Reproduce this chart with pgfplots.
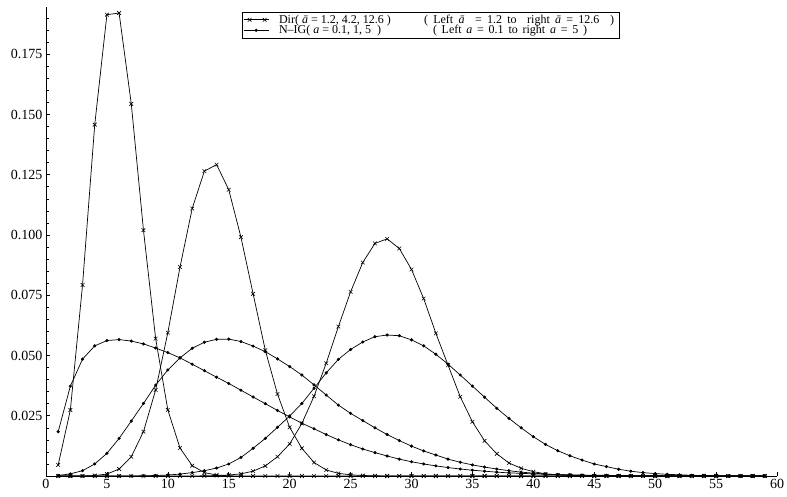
\documentclass[border=0pt]{standalone}
\usepackage{fontspec}
\setmainfont{Liberation Serif}
\usepackage{pgfplots}
\usepackage{pgfplotstable}
\pgfplotsset{compat=1.18}

% k = number of components; d = Dirichlet, n = N-IG
\pgfplotstableread{
k  d1     d2     d3     n1     n2     n3
1  0.0046 0.0000 0.0000 0.0184 0.0002 0.0000
2  0.0274 0.0000 0.0000 0.0373 0.0009 0.0000
3  0.0793 0.0000 0.0000 0.0485 0.0022 0.0000
4  0.1458 0.0002 0.0000 0.0540 0.0050 0.0000
5  0.1914 0.0008 0.0000 0.0562 0.0094 0.0000
6  0.1921 0.0029 0.0000 0.0566 0.0156 0.0000
7  0.1544 0.0080 0.0000 0.0560 0.0228 0.0000
8  0.1020 0.0184 0.0000 0.0548 0.0301 0.0001
9  0.0570 0.0357 0.0000 0.0531 0.0377 0.0002
10 0.0274 0.0595 0.0000 0.0512 0.0440 0.0004
11 0.0116 0.0867 0.0000 0.0490 0.0490 0.0008
12 0.0043 0.1110 0.0000 0.0464 0.0530 0.0014
13 0.0014 0.1265 0.0001 0.0437 0.0555 0.0022
14 0.0004 0.1292 0.0002 0.0410 0.0567 0.0033
15 0.0001 0.1188 0.0004 0.0384 0.0568 0.0050
16 0.0000 0.0991 0.0009 0.0356 0.0558 0.0077
17 0.0000 0.0756 0.0020 0.0328 0.0539 0.0115
18 0.0000 0.0522 0.0042 0.0300 0.0516 0.0156
19 0.0000 0.0340 0.0080 0.0272 0.0486 0.0202
20 0.0000 0.0202 0.0133 0.0245 0.0454 0.0249
21 0.0000 0.0115 0.0218 0.0219 0.0419 0.0301
22 0.0000 0.0056 0.0331 0.0196 0.0378 0.0364
23 0.0000 0.0025 0.0468 0.0172 0.0336 0.0428
24 0.0000 0.0011 0.0620 0.0150 0.0294 0.0484
25 0.0000 0.0005 0.0764 0.0130 0.0260 0.0525
26 0.0000 0.0002 0.0886 0.0112 0.0230 0.0556
27 0.0000 0.0001 0.0965 0.0097 0.0200 0.0578
28 0.0000 0.0000 0.0984 0.0083 0.0172 0.0585
29 0.0000 0.0000 0.0944 0.0070 0.0147 0.0582
30 0.0000 0.0000 0.0857 0.0059 0.0124 0.0565
31 0.0000 0.0000 0.0736 0.0050 0.0104 0.0540
32 0.0000 0.0000 0.0592 0.0042 0.0087 0.0505
33 0.0000 0.0000 0.0460 0.0035 0.0070 0.0464
34 0.0000 0.0000 0.0329 0.0029 0.0057 0.0419
35 0.0000 0.0000 0.0225 0.0024 0.0046 0.0373
36 0.0000 0.0000 0.0146 0.0020 0.0037 0.0327
37 0.0000 0.0000 0.0092 0.0016 0.0029 0.0281
38 0.0000 0.0000 0.0054 0.0013 0.0022 0.0239
39 0.0000 0.0000 0.0032 0.0011 0.0016 0.0200
40 0.0000 0.0000 0.0018 0.0009 0.0012 0.0163
41 0.0000 0.0000 0.0009 0.0007 0.0008 0.0131
42 0.0000 0.0000 0.0004 0.0006 0.0006 0.0105
43 0.0000 0.0000 0.0002 0.0005 0.0004 0.0084
44 0.0000 0.0000 0.0001 0.0004 0.0003 0.0066
45 0.0000 0.0000 0.0000 0.0003 0.0002 0.0050
46 0.0000 0.0000 0.0000 0.0003 0.0001 0.0039
47 0.0000 0.0000 0.0000 0.0002 0.0001 0.0028
48 0.0000 0.0000 0.0000 0.0002 0.0000 0.0020
49 0.0000 0.0000 0.0000 0.0001 0.0000 0.0014
50 0.0000 0.0000 0.0000 0.0001 0.0000 0.0010
51 0.0000 0.0000 0.0000 0.0001 0.0000 0.0007
52 0.0000 0.0000 0.0000 0.0001 0.0000 0.0005
53 0.0000 0.0000 0.0000 0.0001 0.0000 0.0003
54 0.0000 0.0000 0.0000 0.0001 0.0000 0.0002
55 0.0000 0.0000 0.0000 0.0001 0.0000 0.0001
56 0.0000 0.0000 0.0000 0.0000 0.0000 0.0000
57 0.0000 0.0000 0.0000 0.0000 0.0000 0.0000
58 0.0000 0.0000 0.0000 0.0000 0.0000 0.0000
59 0.0000 0.0000 0.0000 0.0000 0.0000 0.0000
}\probs

\pgfplotsset{
  dirstyle/.style={black, line width=0.7pt, mark=x, mark size=2.6pt,
    mark options={line width=0.6pt}},
  nigstyle/.style={black, line width=0.7pt, mark=*, mark size=1.2pt},
  dirlegend/.style={legend image code/.code={\draw[mark repeat=2, mark phase=2, ##1]
    plot coordinates {(0pt,0pt) (6pt,0pt) (13pt,0pt) (21pt,0pt) (25pt,0pt)};}},
  niglegend/.style={legend image code/.code={\draw[mark repeat=2, mark phase=2, ##1]
    plot coordinates {(0pt,0pt) (12.5pt,0pt) (25pt,0pt)};}},
}

\begin{document}
\begin{tikzpicture}
\useasboundingbox (-46pt,-20pt) rectangle (741pt,476pt);
\begin{axis}[
  scale only axis,
  width=731pt, height=469pt,
  xmin=0, xmax=60, ymin=0, ymax=0.1946,
  axis x line*=bottom, axis y line*=left,
  axis line style={-, line width=0.8pt},
  xtick={0,5,10,15,20,25,30,35,40,45,50,55,60},
  ytick={0,0.025,0.05,0.075,0.1,0.125,0.15,0.175},
  yticklabels={,0.025,0.050,0.075,0.100,0.125,0.150,0.175},
  minor ytick={0.005,0.01,0.015,0.02,0.03,0.035,0.04,0.045,0.055,0.06,0.065,0.07,0.08,0.085,0.09,0.095,0.105,0.11,0.115,0.12,0.13,0.135,0.14,0.145,0.155,0.16,0.165,0.17,0.18,0.185,0.19},
  tick align=inside,
  major tick length=4pt, minor tick length=2.5pt,
  tick style={black, line width=0.6pt},
  ticklabel style={font=\fontsize{14}{16}\selectfont},
  /pgf/number format/assume math mode=true,
  legend style={at={(0.268,0.99)}, anchor=north west, draw=black,
    line width=0.8pt, font=\fontsize{12}{12}\selectfont,
    inner sep=1pt, row sep=-3pt, column sep=8pt,
    cells={anchor=west, inner ysep=0pt, text height=8pt, text depth=2.2pt}},
]
\addplot[dirstyle, dirlegend] table[x=k, y=d1] {\probs};
\addlegendentry{\makebox[145pt][l]{Dir( \textit{\=a} = 1.2, 4.2, 12.6 )}\makebox[190pt][s]{( Left \textit{\=a}\ \ = 1.2 to\ \ right \textit{\=a} = 12.6\ \ )}\,}
\addplot[nigstyle, niglegend] table[x=k, y=n1] {\probs};
\addlegendentry{\makebox[154pt][l]{N--IG( \textit{a} = 0.1, 1, 5\ \ )}\makebox[154pt][s]{( Left \textit{a} = 0.1 to right \textit{a} = 5 )}}
\addplot[dirstyle, forget plot] table[x=k, y=d2] {\probs};
\addplot[dirstyle, forget plot] table[x=k, y=d3] {\probs};
\addplot[nigstyle, forget plot] table[x=k, y=n2] {\probs};
\addplot[nigstyle, forget plot] table[x=k, y=n3] {\probs};
\end{axis}
\end{tikzpicture}
\end{document}
